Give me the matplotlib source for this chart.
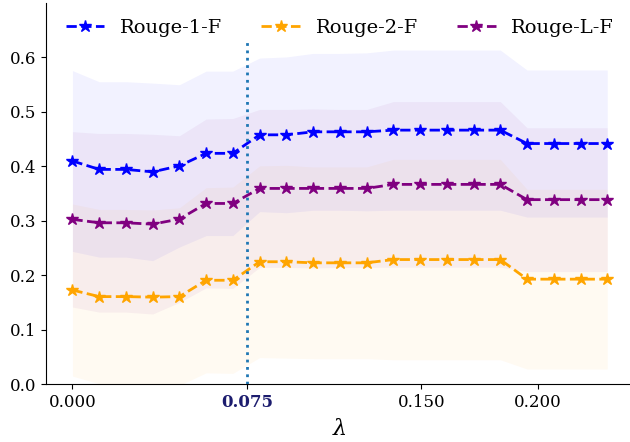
import matplotlib
matplotlib.use("Agg")
import matplotlib.pyplot as plt
import numpy as np

plt.rcParams['font.family'] = ['DejaVu Serif']
plt.rcParams['mathtext.fontset'] = 'dejavuserif'

lambdas = [0.0, 0.0115, 0.023, 0.0345, 0.046, 0.0575, 0.069, 0.0805, 0.092, 0.1035,
           0.115, 0.1265, 0.138, 0.1495, 0.161, 0.1725, 0.184, 0.1955, 0.207, 0.2185, 0.23]

rouge1 = [0.410, 0.3945, 0.3945, 0.390, 0.401, 0.424, 0.424, 0.458, 0.458, 0.4635,
          0.4635, 0.4635, 0.4666, 0.4666, 0.4666, 0.4666, 0.4666, 0.442, 0.442, 0.442, 0.442]
rouge1_std = [0.166, 0.161, 0.161, 0.163, 0.149, 0.151, 0.151, 0.141, 0.143, 0.144,
              0.144, 0.145, 0.147, 0.147, 0.147, 0.147, 0.147, 0.135, 0.135, 0.135, 0.135]

rouge2 = [0.173, 0.161, 0.161, 0.160, 0.161, 0.191, 0.191, 0.225, 0.225, 0.223,
          0.223, 0.223, 0.229, 0.229, 0.229, 0.229, 0.229, 0.193, 0.193, 0.193, 0.193]
rouge2_std = [0.158, 0.160, 0.160, 0.160, 0.163, 0.170, 0.171, 0.176, 0.177, 0.176,
              0.176, 0.176, 0.184, 0.184, 0.184, 0.184, 0.184, 0.165, 0.165, 0.165, 0.165]

rougeL = [0.3028, 0.2965, 0.2965, 0.294, 0.3033, 0.332, 0.332, 0.3596, 0.3596, 0.3596,
          0.3596, 0.3596, 0.367, 0.367, 0.367, 0.367, 0.367, 0.339, 0.339, 0.339, 0.339]
rougeL_std = [0.161, 0.164, 0.164, 0.165, 0.153, 0.155, 0.156, 0.145, 0.145, 0.146,
              0.145, 0.145, 0.152, 0.152, 0.152, 0.152, 0.152, 0.132, 0.132, 0.132, 0.132]

series_names = ['Rouge-1-F', 'Rouge-2-F', 'Rouge-L-F']
series_colors = ['blue', 'orange', 'purple']
best_lambda = 0.075
xtick_vals = [0.0, 0.075, 0.150, 0.200]
xtick_labels = ['0.000', '0.075', '0.150', '0.200']
ytick_vals = [0.0, 0.1, 0.2, 0.3, 0.4, 0.5, 0.6]

fig = plt.figure(figsize=(6.3, 4.42), dpi=100)
ax = fig.add_axes([45.7 / 630, 57.7 / 442, (634 - 45.7) / 630, (439 - 57.7) / 442])

x = np.array(lambdas)
for vals, sd, name, col in zip([rouge1, rouge2, rougeL],
                               [rouge1_std, rouge2_std, rougeL_std],
                               series_names, series_colors):
    v = np.array(vals)
    s = np.array(sd)
    ax.plot(x, v, linestyle='--', marker='*', color=col, label=name,
            linewidth=2, markersize=9)
    ax.fill_between(x, v - s, v + s, color=col, alpha=0.05, linewidth=0)

ax.axvline(best_lambda, ymax=0.9, linestyle=':', color='tab:blue', linewidth=2)

ax.set_xlim(-0.0115, 0.2415)
ax.set_ylim(0, 0.70)
ax.set_xticks(xtick_vals)
ax.set_xticklabels(xtick_labels, fontsize=12)
ax.set_yticks(ytick_vals)
ax.set_yticklabels([f'{v:.1f}' for v in ytick_vals], fontsize=12)
lab = ax.get_xticklabels()[1]
lab.set_fontweight('bold')
lab.set_color('#1c1c6e')

ax.set_xlabel(r'$\lambda$', fontsize=16, labelpad=5)
ax.spines['top'].set_visible(False)
ax.spines['right'].set_visible(False)

ax.legend(loc='upper center', ncol=3, frameon=False, fontsize=14,
          bbox_to_anchor=(0.5, 1.005))

fig.savefig('out.png', dpi=100)
